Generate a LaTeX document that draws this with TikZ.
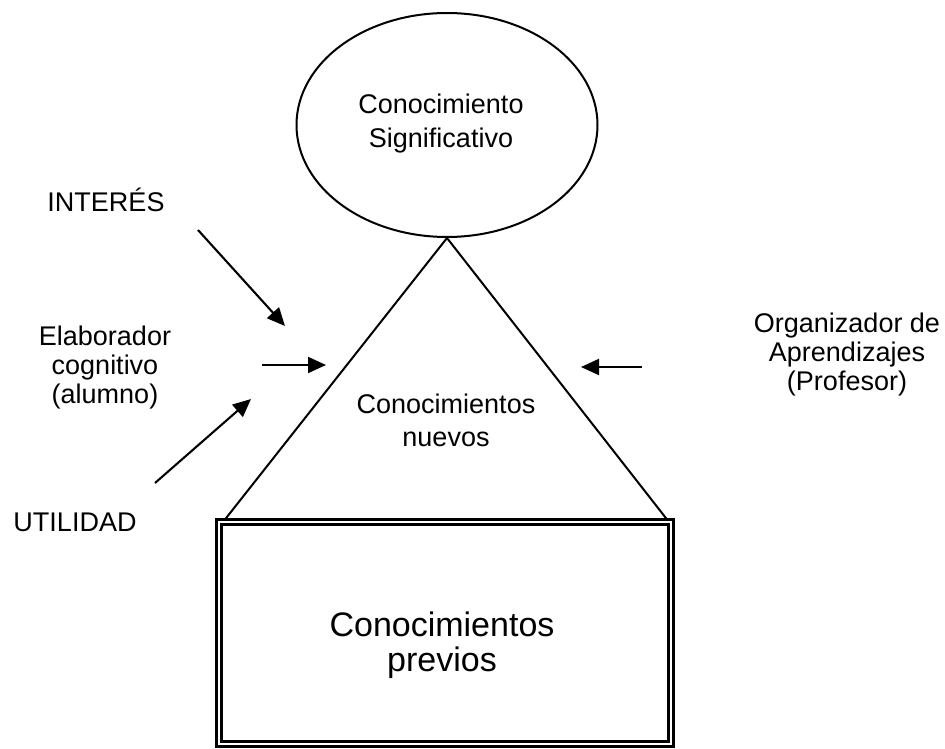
\documentclass[tikz,border=0pt]{standalone}
\usepackage{fontspec}
\setmainfont{Liberation Sans}
\usetikzlibrary{arrows.meta,shapes.geometric}
\begin{document}
\begin{tikzpicture}[x=1pt,y=-1pt,
  lbl/.style={font=\fontsize{27}{29}\selectfont, align=center, inner sep=0pt},
  arr/.style={line width=2.1pt, -{Triangle[length=18pt,width=16pt]}},
  edge/.style={line width=2pt},
]
\useasboundingbox (0,0) rectangle (945,749);
% ellipse
\node[draw, edge, ellipse, minimum width=301pt, minimum height=224pt, inner sep=0pt] (sig) at (447,125) {};
\node[lbl, font=\fontsize{27}{34}\selectfont] (sigt) at (441,124) {Conocimiento\\Significativo};
% triangle
\coordinate (L) at (223,522);
\coordinate (R) at (669,522);
\draw[edge, line join=miter] (L) -- (sig.south) -- (R);
\node[lbl, font=\fontsize{27}{33}\selectfont] (nuevos) at (446,420) {Conocimientos\\nuevos};
% box
\node[draw, line width=2.7pt, double, double distance=2.5pt, minimum width=452pt, minimum height=222pt, inner sep=0pt] (prev) at (445,633) {};
\node[lbl, font=\fontsize{34}{35}\selectfont] (prevt) at (442,645) {Conocimientos\\previos};
% side labels
\node[lbl] (int) at (106,200) {INTERÉS};
\node[lbl] (elab) at (105,368) {Elaborador\\cognitivo\\(alumno)};
\node[lbl] (util) at (75,522) {UTILIDAD};
\node[lbl] (org) at (847,355) {Organizador de\\Aprendizajes\\(Profesor)};
% arrows
\coordinate (a1s) at (198,230); \coordinate (a1e) at (285,326);
\coordinate (a2s) at (262,365); \coordinate (a2e) at (326,365);
\coordinate (a3s) at (155,483); \coordinate (a3e) at (251,399);
\coordinate (a4s) at (642,367); \coordinate (a4e) at (581,367);
\draw[arr] (a1s) -- (a1e);
\draw[arr] (a2s) -- (a2e);
\draw[arr] (a3s) -- (a3e);
\draw[arr] (a4s) -- (a4e);
\end{tikzpicture}
\end{document}
